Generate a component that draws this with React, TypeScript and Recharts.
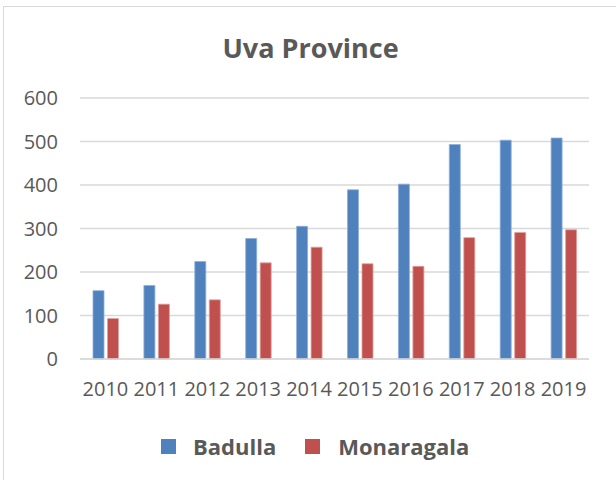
import { BarChart, Bar, XAxis, YAxis, CartesianGrid, Legend } from 'recharts';

const years = ['2010', '2011', '2012', '2013', '2014', '2015', '2016', '2017', '2018', '2019'];
const badulla = [157, 169, 224, 277, 305, 389, 402, 493, 503, 508];
const monaragala = [93, 126, 136, 221, 257, 219, 213, 279, 291, 297];
const yTicks = [0, 100, 200, 300, 400, 500, 600];

const data = years.map((y, i) => ({ year: y, Badulla: badulla[i], Monaragala: monaragala[i] }));

const BLUE = '#4F81BD';
const RED = '#C0504D';
const TEXT = '#595959';
const FONT = '"Open Sans", sans-serif';

const LegendBox = () => (
  <div style={{ display: 'flex', alignItems: 'center', height: 40, paddingLeft: 161, fontFamily: FONT, fontWeight: 700, fontSize: 22, color: TEXT }}>
    <span style={{ width: 15, height: 15, background: BLUE, display: 'inline-block' }} />
    <span style={{ marginLeft: 17 }}>Badulla</span>
    <span style={{ width: 15, height: 15, background: RED, display: 'inline-block', marginLeft: 29 }} />
    <span style={{ marginLeft: 18 }}>Monaragala</span>
  </div>
);

export default function App() {
  return (
    <div style={{ position: 'absolute', left: 0, top: 0, width: 616, height: 480, overflow: 'hidden', background: '#fff' }}>
      <div style={{ position: 'absolute', left: 3, top: 6, width: 640, height: 500, borderLeft: '1.5px solid #d9d9d9', borderTop: '1.5px solid #d9d9d9' }} />
      <div style={{ position: 'absolute', left: 0, top: 34, width: 621, textAlign: 'center', fontFamily: FONT, fontWeight: 700, fontSize: 27, lineHeight: '27px', color: TEXT }}>
        Uva Province
      </div>
      <div style={{ position: 'absolute', left: 0, top: 0 }}>
        <BarChart width={616} height={480} data={data} margin={{ top: 98, right: 27, left: 0, bottom: 14 }} barSize={11} barGap={3.5}>
          <CartesianGrid vertical={false} stroke="#d9d9d9" strokeWidth={1.5} />
          <XAxis dataKey="year" height={67} interval={0} tickLine={false} tickSize={0} tickMargin={23}
            axisLine={{ stroke: '#d9d9d9', strokeWidth: 1.5 }}
            tick={{ fill: TEXT, fontSize: 20, fontFamily: FONT }} />
          <YAxis width={80} domain={[0, 600]} ticks={yTicks} axisLine={false} tickLine={false} tickSize={0} tickMargin={22}
            tick={{ fill: TEXT, fontSize: 20, fontFamily: FONT }} />
          <Legend verticalAlign="bottom" height={40} content={() => <LegendBox />} />
          <Bar dataKey="Badulla" fill={BLUE} stroke="#8eaedb" strokeWidth={0.8} isAnimationActive={false} />
          <Bar dataKey="Monaragala" fill={RED} stroke="#e0a09e" strokeWidth={0.8} isAnimationActive={false} />
        </BarChart>
      </div>
    </div>
  );
}
